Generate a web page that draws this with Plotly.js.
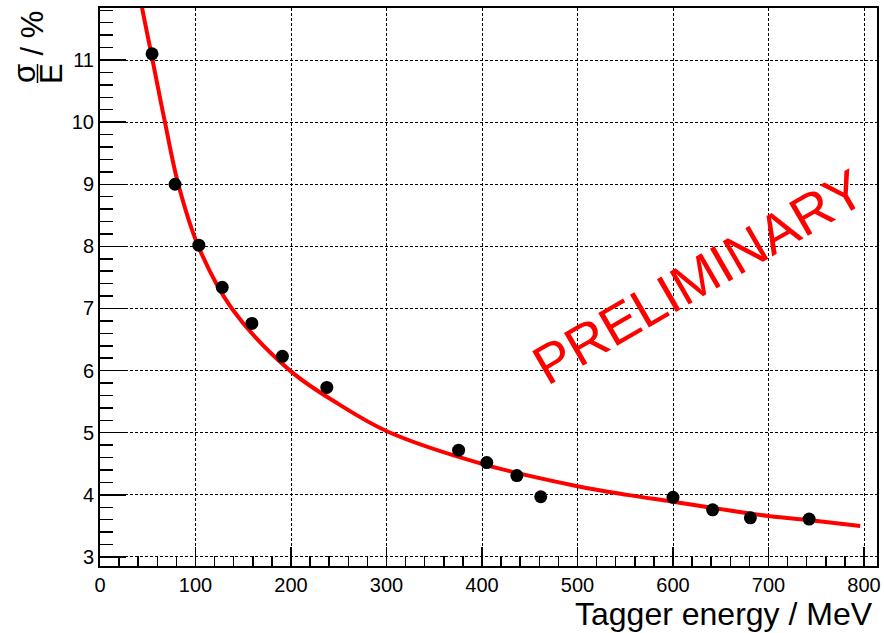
<!DOCTYPE html>
<html>
<head>
<meta charset="utf-8">
<script src="https://cdn.plot.ly/plotly-3.0.1.min.js"></script>
<style>
  html, body { margin: 0; padding: 0; background: #ffffff; }
  #chart { width: 884px; height: 633px; }
</style>
</head>
<body>
<div id="chart"></div>
<script>
// Measured energy resolution per tagger channel
const taggerEnergy = [54.5, 78.6, 103.5, 128, 159, 191, 237.5, 375.5, 405, 436.5, 461.5, 600, 641.5, 681, 742.5];
const resolution   = [11.1, 9.0, 8.02, 7.34, 6.76, 6.23, 5.73, 4.72, 4.52, 4.31, 3.97, 3.96, 3.76, 3.63, 3.61];

// Fitted resolution curve, sampled along the energy range
const fitEnergy = [44, 55, 68, 82, 103, 138, 199, 250, 301, 400, 500, 552, 600, 700, 744, 796];
const fitValue  = [11.84, 11.0, 10.0, 9.0, 8.0, 7.0, 6.0, 5.46, 5.02, 4.5, 4.14, 4.0, 3.89, 3.66, 3.59, 3.5];

// Axis settings
const xRange = [0, 813.6];
const yRange = [2.855, 11.837];
const xTitle = 'Tagger energy / MeV';
const watermark = 'PRELIMINARY';

const FONT = 'Liberation Sans, Arial, Helvetica, sans-serif';

// Frame geometry in page pixels, used to place free-floating labels
const W = 884, H = 633;
const M = { l: 100, r: 7, t: 8, b: 67 };
const PW = W - M.l - M.r, PH = H - M.t - M.b;
const px = v => (v - M.l) / PW;
const py = v => (H - M.b - v) / PH;

const traces = [
  {
    x: fitEnergy, y: fitValue,
    mode: 'lines', type: 'scatter',
    line: { color: '#ff0000', width: 4, shape: 'spline', smoothing: 1 },
    hoverinfo: 'skip', showlegend: false
  },
  {
    x: taggerEnergy, y: resolution,
    mode: 'markers', type: 'scatter',
    marker: { color: '#000000', size: 13 },
    showlegend: false
  }
];

const gridStyle = { showgrid: true, gridcolor: '#000000', gridwidth: 1, griddash: '3px,2px' };

const layout = {
  width: W, height: H,
  margin: M,
  paper_bgcolor: '#ffffff', plot_bgcolor: '#ffffff',
  font: { family: FONT, color: '#000000' },
  showlegend: false,
  xaxis: Object.assign({
    range: xRange, tick0: 0, dtick: 100,
    ticks: 'inside', ticklen: 19, tickwidth: 1.5, tickcolor: '#000000',
    minor: { ticks: 'inside', ticklen: 10, tickwidth: 1.5, tickcolor: '#000000', tick0: 0, dtick: 20, showgrid: false },
    showline: true, linecolor: '#000000', linewidth: 2, mirror: true,
    zeroline: false,
    tickfont: { family: FONT, size: 20, color: '#000000' }
  }, gridStyle),
  yaxis: Object.assign({
    range: yRange, tick0: 0, dtick: 1,
    ticks: 'inside', ticklen: 26, tickwidth: 1.5, tickcolor: '#000000',
    minor: { ticks: 'inside', ticklen: 13, tickwidth: 1.5, tickcolor: '#000000', tick0: 0, dtick: 0.2, showgrid: false },
    showline: true, linecolor: '#000000', linewidth: 2, mirror: true,
    zeroline: false,
    tickfont: { family: FONT, size: 20, color: '#000000' }
  }, gridStyle),
  annotations: [
    {
      text: xTitle, xref: 'paper', yref: 'paper',
      x: px(875), y: py(614), xanchor: 'right', yanchor: 'middle',
      showarrow: false, font: { family: FONT, size: 32, color: '#000000' }
    },
    {
      text: 'σ', xref: 'paper', yref: 'paper',
      x: px(24.5), y: py(73.5), xanchor: 'center', yanchor: 'middle', textangle: -90,
      showarrow: false, font: { family: FONT, size: 31, color: '#000000' }
    },
    {
      text: 'E', xref: 'paper', yref: 'paper',
      x: px(51.5), y: py(73.5), xanchor: 'center', yanchor: 'middle', textangle: -90,
      showarrow: false, font: { family: FONT, size: 31, color: '#000000' }
    },
    {
      text: '/ %', xref: 'paper', yref: 'paper',
      x: px(31.5), y: py(33), xanchor: 'center', yanchor: 'middle', textangle: -90,
      showarrow: false, font: { family: FONT, size: 31, color: '#000000' }
    },
    {
      text: watermark, xref: 'x', yref: 'y',
      x: 626.7, y: 7.5, xanchor: 'center', yanchor: 'middle', textangle: -30,
      showarrow: false, font: { family: FONT, size: 55, color: '#ff0000' }
    }
  ],
  shapes: [
    {
      type: 'line', xref: 'paper', yref: 'paper',
      x0: px(37.5), x1: px(37.5), y0: py(64), y1: py(83),
      line: { color: '#000000', width: 1.5 }
    }
  ]
};

Plotly.newPlot('chart', traces, layout, { staticPlot: true, displayModeBar: false });
</script>
</body>
</html>
